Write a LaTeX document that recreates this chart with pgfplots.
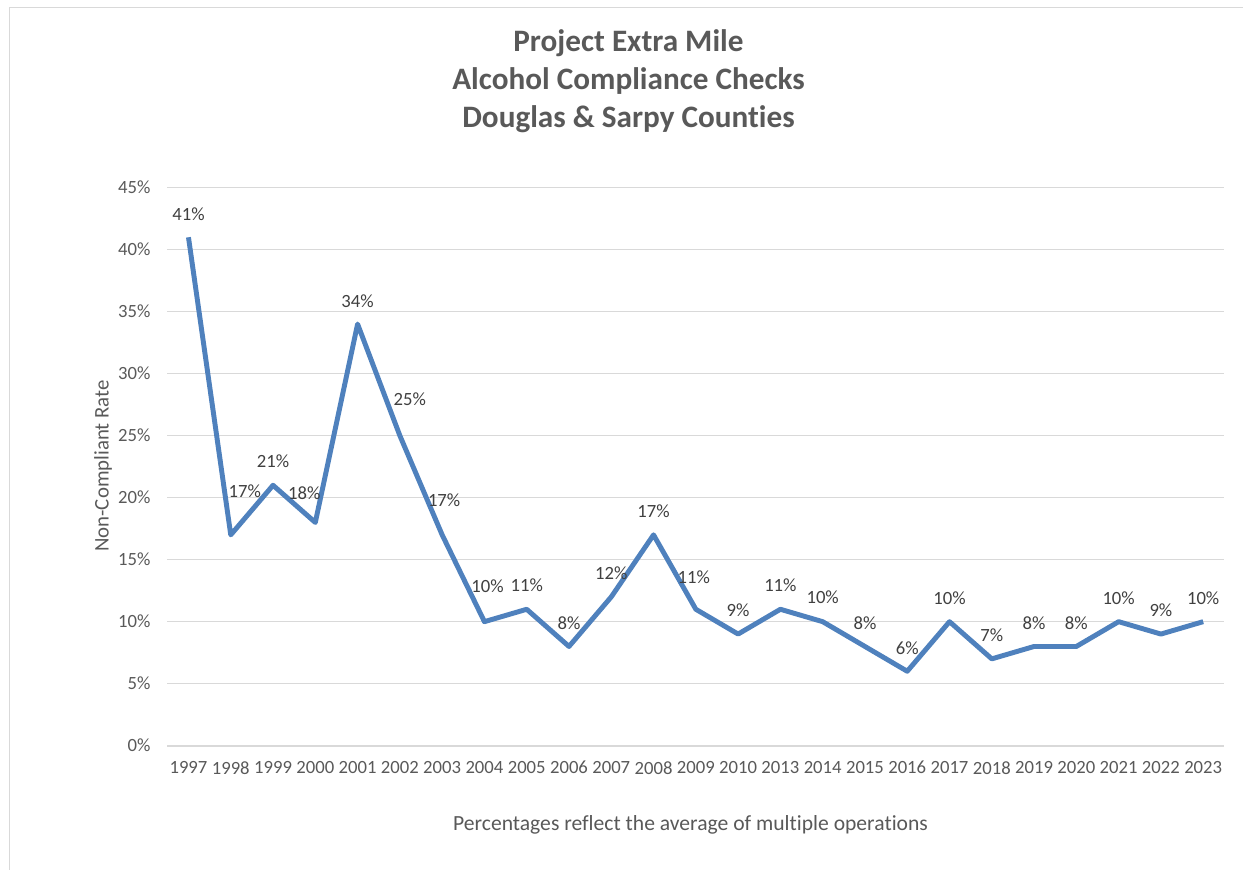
\documentclass[border=0pt]{standalone}
\usepackage{pgfplots}
\usepackage{pgfplotstable}
\pgfplotsset{compat=1.18}
\usepackage{fontspec}
\setmainfont{Carlito}[Ligatures=NoCommon]

\definecolor{txt}{HTML}{595959}
\definecolor{lbl}{HTML}{404040}
\definecolor{grd}{HTML}{D9D9D9}
\definecolor{ln}{HTML}{4F81BD}

% x = position, v = rate in %, dx/dy = label offset in pt
\pgfplotstableread{
x year v dx dy
0 1997 41 0 17.6
1 1998 17 10.5 33
2 1999 21 0 18
3 2000 18 -8.2 21.8
4 2001 34 0 17.3
5 2002 25 7.5 27
6 2003 17 1.5 26.3
7 2004 10 2.3 26.6
8 2005 11 0 18
9 2006 8 0 17.3
10 2007 12 0 18
11 2008 17 0 18
12 2009 11 -1.5 24
13 2010 9 0 18
14 2013 11 0 18
15 2014 10 0 18
16 2015 8 0 17.5
17 2016 6 0 17.5
18 2017 10 0 17.5
19 2018 7 0 18
20 2019 8 0 17.5
21 2020 8 0 17.5
22 2021 10 0 17.5
23 2022 9 0 18
24 2023 10 0 17.5
}\rates

\begin{document}
\begin{tikzpicture}
\useasboundingbox (0,0) rectangle (932.25pt,651.75pt);
% chart furniture, placed in pixel units of the reference
\begin{scope}[x=0.75pt,y=-0.75pt,yshift=651.75pt]
  \draw[grd, line width=1.1pt] (9.5,880) -- (9.5,7.7) -- (1250,7.7);
  \node[anchor=base, font=\fontsize{23.4}{28}\selectfont\bfseries, text=txt, inner sep=0pt] at (628.5,51.7) {Project Extra Mile};
  \node[anchor=base, font=\fontsize{23.4}{28}\selectfont\bfseries, text=txt, inner sep=0pt] at (628.5,90) {Alcohol Compliance Checks};
  \node[anchor=base, font=\fontsize{23.4}{28}\selectfont\bfseries, text=txt, inner sep=0pt] at (628.5,127.7) {Douglas \& Sarpy Counties};
  \node[rotate=90, font=\fontsize{15.6}{18}\selectfont, text=txt, inner sep=0pt] at (103,466) {Non-Compliant Rate};
  \node[anchor=base, font=\fontsize{16.2}{19}\selectfont, text=txt, inner sep=0pt] at (690.5,830) {Percentages reflect the average of multiple operations};
\end{scope}

\begin{axis}[
  at={(125.5pt,92.5pt)}, anchor=south west,
  scale only axis, width=792.75pt, height=418.5pt,
  xmin=-0.5, xmax=24.5, ymin=0, ymax=45,
  axis line style={draw=none},
  ytick={0,5,...,45},
  ymajorgrids,
  major grid style={grd, line width=1.1pt},
  major tick length=0pt,
  xtick=data,
  xticklabels from table={\rates}{year},
  /pgf/number format/assume math mode=true,
  yticklabel={\pgfmathprintnumber{\tick}\%},
  ticklabel style={font=\fontsize{14}{16}\selectfont, text=txt, inner sep=0pt},
  yticklabel style={xshift=-12.5pt},
  xticklabel style={yshift=-11.5pt},
  clip=false,
]
\draw[grd, line width=1.6pt] (axis cs:-0.5,0) -- (axis cs:24.5,0);
\addplot[ln, line width=3.7pt, line join=round, mark=none,
  point meta=explicit symbolic,
  visualization depends on={\thisrow{dx} \as \dx},
  visualization depends on={\thisrow{dy} \as \dy},
  nodes near coords={\pgfplotspointmeta\%},
  every node near coord/.append style={anchor=center, xshift=\dx pt, yshift=\dy pt,
    font=\fontsize{14}{16}\selectfont, text=lbl, inner sep=0pt},
] table[x=x, y=v, meta=v] {\rates};
\end{axis}
\end{tikzpicture}
\end{document}
